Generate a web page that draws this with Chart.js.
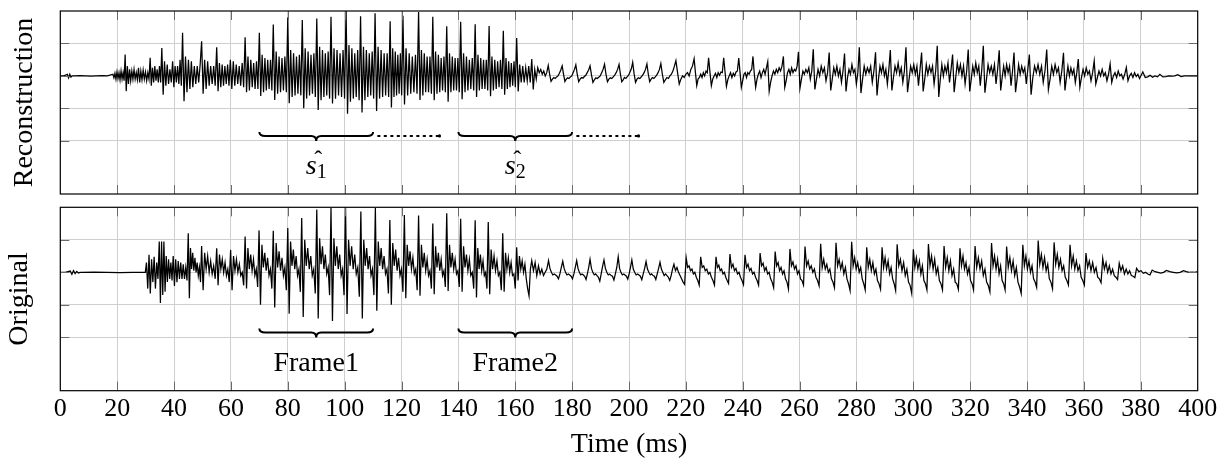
<!DOCTYPE html>
<html>
<head>
<meta charset="utf-8">
<script src="https://cdn.jsdelivr.net/npm/chart.js@4.4.0/dist/chart.umd.min.js"></script>
<style>
  body { margin: 0; background: #fff; }
  #wrap { position: relative; width: 1226px; height: 463px; }
  .panel { position: absolute; left: 0; width: 1226px; }
  #top { top: 0; height: 200px; }
  #bottom { top: 200px; height: 263px; }
</style>
</head>
<body>
<div id="wrap">
  <div class="panel" id="top"><canvas id="recon"></canvas></div>
  <div class="panel" id="bottom"><canvas id="orig"></canvas></div>
</div>
<script>
// x axis (ms)
const timeMin = 0;
const timeMax = 400;
const timeStep = 20;
// amplitude gridlines
const ampGrid = [-2, -1, 0, 1];
const ampMin = -3.64;
const ampMax = 2;

// analysis frames
const frameStart = [70, 140];
const frameEnd = [110, 180];
const frameNames = ['Frame1', 'Frame2'];
const hatNames = ['1', '2'];
const dottedEnd = [133, 203];

// Reconstruction: one row per pitch period -> [time of the period start (ms), samples read across the period...]
const reconRows = [
  [0, 0, 0],
  [2.5, .05, -.06, .05, -.04, 0, 0],
  [5, 0, .01, 0, -.01, 0, .01, 0],
  [18.5, .05, -.06, .08, -.1, .12, -.08, .1, -.12, .15, -.1, .1, -.15],
  [22.8, .66, -.47, .3, -.25, .2, -.15, .15, -.1, .2, -.1, .1, -.12],
  [27.5, .25, -.2, .15, -.12, .18, -.1, .12, -.15, .1, -.1],
  [31.6, .56, -.3, .25, -.2, .3, -.15, .2, -.2, .3, -.2],
  [35.7, .86, -.58, .45, -.3, .35, -.25, .2, -.2],
  [39.5, .45, -.35, .3, -.2, .3, -.25, .5, -.3],
  [43, 1.33, -.78, .6, -.5, .5, -.4, .45, -.35, .3, -.25, .3, -.2, .35],
  [49.7, 1.07, -.55, .5, -.4, .45, -.3, .3, -.25, .3, -.3],
  [55, .88, -.47, .4, -.35, .35, -.3, .3, -.25, .35, -.3],
  [59.8, .5, -.4, .45, -.3, .35, -.25, .3, -.3, .4, -.35],
  [65, 1.19, -.5, .6, -.45, .5, -.35, .4, -.4, .45, -.4],
  [70, 1.33, -.62, .65, -.5, .55, -.45, .5, -.4, .5, -.45],
  [74.9, 1.58, -.74, .75, -.55, .6, -.5, .55, -.45, .6, -.5],
  [80, 1.8, -.84, .8, -.65, .7, -.6, .6, -.55, .65, -.6],
  [85.1, 1.72, -1.0, .85, -.7, .75, -.6, .65, -.55, .7, -.65],
  [90.2, 1.77, -1.05, .9, -.75, .8, -.65, .7, -.6, .75, -.7],
  [95.2, 1.82, -.85, .85, -.7, .8, -.6, .7, -.65, .8, -.7],
  [100.5, 2.1, -1.17, .95, -.8, .85, -.7, .7, -.65, .8, -.75],
  [105.6, 1.84, -1.13, .9, -.75, .8, -.65, .7, -.6, .75, -.7],
  [110.7, 1.93, -1.08, .9, -.7, .8, -.65, .7, -.6, .7, -.65],
  [116, 1.68, -.97, .85, -.65, .75, -.6, .65, -.55, .7, -.6],
  [120.5, 1.85, -.88, .85, -.6, .7, -.55, .6, -.5, .65, -.55],
  [126, 1.97, -.74, .8, -.6, .7, -.5, .6, -.5, .6, -.55],
  [131, 1.82, -.75, .75, -.55, .65, -.5, .55, -.45, .6, -.5],
  [135.9, 1.53, -.8, .7, -.5, .6, -.45, .55, -.45, .55, -.5],
  [140.8, 1.67, -.72, .7, -.5, .6, -.45, .5, -.4, .55, -.45],
  [145.9, 1.59, -.65, .65, -.45, .55, -.4, .5, -.4, .5, -.45],
  [150.8, 1.54, -.63, .6, -.45, .5, -.4, .45, -.35, .5, -.4],
  [155.8, 1.39, -.58, .55, -.4, .45, -.35, .4, -.3, .45, -.35],
  [160.5, 1.17, -.48, .35, -.2, .3, -.2, .25, -.15, .3, -.2],
  [165.8, .52, -.42, .2, -.1, .25, .1, .2, .05, .15, 0, .1],
  [171.6, .32, .05, -.17, -.1, -.05, -.08, -.03, 0, .08, .18],
  [176.5, .31, .05, -.17, -.1, -.06, -.08, -.03, 0, .1, .2],
  [181.3, .34, .05, -.18, -.1, -.05, -.07, -.02, .02, .1, .18],
  [186.3, .31, .03, -.2, -.12, -.06, -.08, -.04, 0, .1, .2],
  [191.4, .36, .05, -.18, -.1, -.06, -.08, -.03, .02, .1, .2],
  [196.5, .35, .05, -.18, -.12, -.05, -.08, -.02, .02, .12, .22],
  [201.3, .42, .06, -.2, -.1, -.06, -.08, -.03, .02, .1, .2],
  [206.3, .37, .05, -.18, -.1, -.05, -.08, -.03, .02, .1, .2],
  [211.2, .38, .05, -.2, -.12, -.05, -.08, 0, .05, .15, .3],
  [216.5, .47, .1, -.25, -.1, 0, -.05, .05, .1, 0, .2, .3],
  [222.9, .53, .1, -.3, -.1, -.05, .05, -.05, .1, 0, .15, .1],
  [228, .56, .1, -.3, -.1, 0, .08, -.05, .1, .02, .12, .1],
  [233.3, .56, .12, -.32, -.12, 0, .1, -.05, .08, 0, .12, .15],
  [238.6, .55, .1, -.35, -.15, .05, .1, -.05, .1, .05, .15, .2],
  [243.6, .6, .05, -.35, -.1, .05, .15, -.05, .1, .2, .05, .25],
  [248.8, .44, -.47, -.2, 0, .15, .05, .2, .1, .25, .15, .3],
  [254.3, .6, -.35, -.15, .1, .2, .05, .25, .1, .2, .15, .3],
  [259.6, .74, -.38, -.1, .15, .05, .2, .1, .25, -.1, .15],
  [264.8, .82, -.42, -.1, .2, 0, .3, .1, .25, -.15, .1],
  [270.4, .72, -.45, -.1, .25, .05, .3, 0, .2, -.2, .15],
  [275.8, .69, -.48, -.05, .2, .05, .35, .1, .2, -.25, .1],
  [281, .88, -.53, -.1, .3, .05, .25, .1, .3, -.2, .15],
  [286.7, .73, -.6, -.1, .3, .1, .35, 0, .2, -.25, .2],
  [291.9, .8, -.45, -.05, .3, .1, .4, .05, .25, -.2, .15],
  [297.4, .88, -.5, -.1, .3, .1, .35, .05, .3, -.3, .2],
  [302.9, .72, -.48, -.1, .35, .05, .3, .1, .3, -.25, .15],
  [308.4, .93, -.65, -.1, .35, 0, .3, .1, .4, -.2, .2],
  [313.8, .66, -.5, -.05, .4, .1, .35, 0, .3, -.25, .15],
  [319.3, .81, -.48, -.1, .3, .05, .4, .1, .3, -.3, .2],
  [324.6, .93, -.52, -.1, .35, .1, .3, .05, .35, -.25, .2],
  [330.2, .79, -.45, -.05, .3, 0, .35, .1, .3, -.3, .15],
  [335.4, .72, -.5, -.1, .35, .05, .3, .1, .25, -.25, .2],
  [340.8, .66, -.58, -.05, .3, .1, .35, .05, .3, -.2, .15],
  [346.9, .81, -.42, -.1, .3, .05, .35, .1, .25, -.2, .15],
  [352.8, .71, -.45, -.05, .3, 0, .25, .05, .2, -.2, .1],
  [358, .52, -.35, -.05, .2, 0, .25, .05, .15, -.15, .1],
  [363.6, .46, -.25, -.05, .15, 0, .2, 0, .1, -.15, .05],
  [369.2, .37, -.2, 0, .1, -.05, .15, 0, .05, -.1, .05],
  [374.9, .26, -.15, 0, .08, -.05, .1, -.02, .05, -.08, .02],
  [380.7, .12, -.05, -.03, .02, -.04, 0, -.03],
  [386.7, .05, -.03, -.02, 0, -.01, 0],
  [393, .04, -.02, 0, 0, 0, 0],
  [400, 0]
];

// Original: same layout
const origRows = [
  [0, 0, 0],
  [3.5, .04, -.06, .05, -.04, .03, -.02, 0],
  [7.5, 0, .01, 0, -.01, 0],
  [29.9, 0],
  [30.3, .3, -.5, .54, -.65, .4, -.3, .48, -.5, .3, -.2],
  [34.8, .95, -.94, .95, -.7, .95, -.6, .5, -.3, .4, -.2, .3, -.25],
  [39.7, .5, -.42, .4, -.3, .35, -.2, .3, -.2, .25, -.2, .15, -.25],
  [45, 1.2, -.8, .75, .1, .6, .05, .45, 0, .3, -.1, .15, -.3],
  [49.7, .81, -.55, .6, .1, .5, 0, .35, -.05, .2, -.2],
  [55, .74, -.4, .55, .1, .4, 0, .3, -.1, .1, -.3],
  [59.9, .69, -.55, .5, .05, .4, 0, .25, -.1, 0, -.4],
  [65, 1.1, -.5, .75, .1, .55, .05, .4, -.1, .1, -.45],
  [69.9, 1.29, -1.0, .85, .15, .6, .05, .45, -.1, .1, -.5],
  [74.9, 1.28, -1.08, .9, .15, .65, .05, .45, -.1, .15, -.55],
  [80, 1.36, -1.27, .95, .2, .7, .1, .5, -.1, .1, -.6],
  [84.9, 1.67, -1.37, 1.0, .2, .75, .1, .5, -.1, .1, -.65],
  [90.2, 1.93, -1.42, 1.05, .25, .8, .1, .55, -.05, .15, -.7],
  [95.2, 1.98, -1.5, 1.05, .2, .8, .1, .55, -.1, .1, -.7],
  [100.3, 2.1, -1.28, 1.0, .2, .8, .1, .55, -.05, .15, -.75],
  [105.7, 1.87, -1.42, 1.0, .2, .75, .1, .5, -.1, .1, -.7],
  [110.8, 1.98, -1.18, .95, .2, .75, .1, .5, -.05, .1, -.65],
  [115.9, 1.61, -1.0, .9, .2, .7, .05, .45, -.1, .1, -.6],
  [121, 1.76, -.8, .85, .2, .65, .1, .45, -.05, .1, -.55],
  [126, 1.75, -.72, .85, .15, .6, .05, .4, -.1, .05, -.5],
  [131, 1.5, -.67, .8, .15, .6, .05, .4, -.1, .05, -.45],
  [135.9, 1.82, -.57, .85, .15, .6, .1, .4, -.05, .05, -.45],
  [140.8, 1.65, -.6, .8, .15, .55, .05, .4, -.1, 0, -.5],
  [145.9, 1.6, -.77, .75, .1, .55, .05, .35, -.1, 0, -.5],
  [150.5, 1.55, -.67, .7, .1, .5, .05, .35, -.1, 0, -.55],
  [155.6, 1.2, -.6, .6, .1, .45, 0, .3, -.1, -.05, -.5],
  [160.5, .77, -.25, .5, .1, .35, 0, .25, -.2, -.5, -.72, .1],
  [165.8, .36, .05, .3, -.1, .2, -.05, .1, -.1, 0, .1],
  [171.7, .36, .12, 0, -.08, -.05, -.08, -.12, -.2, -.05, .15],
  [176.7, .34, .12, 0, -.08, -.05, -.08, -.12, -.2, -.05, .15],
  [181.6, .36, .12, 0, -.08, -.05, -.08, -.12, -.22, -.05, .15],
  [186.3, .4, .12, 0, -.08, -.05, -.1, -.15, -.27, -.05, .18],
  [191.2, .38, .12, 0, -.08, -.05, -.1, -.12, -.24, -.05, .15],
  [196.2, .48, .12, 0, -.08, -.05, -.08, -.12, -.21, -.05, .15],
  [201, .38, .1, 0, -.08, -.05, -.08, -.12, -.23, -.05, .12],
  [206, .33, .1, 0, -.08, -.05, -.1, -.12, -.22, -.05, .12],
  [210.9, .31, .1, 0, -.1, -.05, -.1, -.15, -.25, -.1, .1],
  [215.8, .25, .05, .15, 0, -.1, -.2, -.3, -.37],
  [220.1, .45, .15, .2, .05, .1, -.05, 0, -.15, -.25, -.39],
  [225.2, .48, .15, .2, .05, .1, -.05, 0, -.15, -.25, -.39],
  [230.6, .48, .15, .22, .05, .1, -.05, 0, -.15, -.25, -.34],
  [235.5, .56, .15, .25, .05, .12, -.05, 0, -.15, -.25, -.38],
  [240.8, .54, .15, .25, .05, .12, -.05, 0, -.15, -.25, -.39],
  [246.1, .59, .2, .28, .05, .15, -.05, 0, -.2, -.3, -.47],
  [251.4, .64, .2, .3, .05, .15, -.05, .05, -.2, -.3, -.51],
  [256.6, .72, .2, .32, .1, .2, -.05, .05, -.2, -.25, -.39],
  [261.9, .79, .2, .35, .1, .2, 0, .1, -.15, -.25, -.41],
  [267.4, .88, .15, .4, .1, .25, 0, .1, -.2, -.3, -.47],
  [272.8, .91, .2, .4, .1, .3, -.05, .15, -.2, -.35, -.56],
  [278.3, .94, .2, .45, .1, .3, 0, .15, -.2, -.35, -.54],
  [283.6, .77, .15, .4, .05, .3, -.05, .1, -.25, -.35, -.52],
  [289, .77, .15, .45, .1, .35, -.05, .15, -.2, -.35, -.56],
  [294.3, .86, .2, .4, .05, .3, -.1, .1, -.3, -.4, -.65],
  [300, .71, .15, .45, .1, .35, -.05, .2, -.25, -.35, -.54],
  [305.3, .87, .2, .5, .1, .4, -.05, .15, -.25, -.35, -.54],
  [310.8, .81, .15, .45, .05, .35, -.1, .1, -.3, -.35, -.52],
  [316.4, .74, .2, .5, .1, .3, -.05, .15, -.25, -.35, -.54],
  [321.7, .81, .15, .45, .1, .35, -.1, .1, -.3, -.4, -.6],
  [327.5, .9, .2, .5, .1, .4, -.05, .2, -.25, -.35, -.54],
  [332.8, .79, .15, .45, .05, .35, -.1, .15, -.3, -.45, -.65],
  [338.5, .85, .2, .5, .1, .35, 0, .2, -.2, -.3, -.46],
  [343.9, .98, .25, .55, .15, .45, .05, .25, -.2, -.3, -.5],
  [349.5, .92, .25, .55, .15, .4, .05, .2, -.15, -.25, -.39],
  [355.1, .85, .2, .5, .1, .35, .05, .2, -.15, -.25, -.39],
  [360.7, .59, .15, .35, .05, .3, 0, .15, -.15, -.2, -.32],
  [366.6, .43, .1, .3, 0, .2, -.05, .1, -.1, -.15, -.22],
  [372.4, .28, .05, .2, -.05, .1, -.05, .05, -.1, -.12, -.16],
  [378.5, .12, .02, .05, -.03, 0, -.05, -.08],
  [384, .07, .02, 0, -.02, 0],
  [389, .06, .02, 0, -.02, 0],
  [395, .05, .02, 0, .01, 0],
  [400, .02]
];

// turn period rows into {x, y} points
function toPoints(rows) {
  const pts = [];
  rows.forEach((row, i) => {
    const t0 = row[0];
    const t1 = i + 1 < rows.length ? rows[i + 1][0] : timeMax;
    const vals = row.slice(1);
    const step = (t1 - t0) / vals.length;
    vals.forEach((v, k) => pts.push({ x: t0 + k * step, y: v }));
  });
  return pts;
}

const serif = "'Liberation Serif', 'Times New Roman', serif";

// frame, inner tick marks, braces and their labels
function decoPlugin(kind) {
  return {
    id: 'deco_' + kind,
    afterDatasetsDraw(chart) {
      const { ctx, chartArea: a, scales: { x, y } } = chart;
      ctx.save();
      // tick marks inside the box
      ctx.strokeStyle = '#6a6a6a';
      ctx.lineWidth = 1;
      ctx.beginPath();
      for (let t = timeMin + timeStep; t < timeMax; t += timeStep) {
        const px = Math.round(x.getPixelForValue(t)) + 0.5;
        ctx.moveTo(px, a.top); ctx.lineTo(px, a.top + 9);
        ctx.moveTo(px, a.bottom); ctx.lineTo(px, a.bottom - 9);
      }
      ampGrid.forEach(v => {
        const py = Math.round(y.getPixelForValue(v)) + 0.5;
        ctx.moveTo(a.left, py); ctx.lineTo(a.left + 9, py);
        ctx.moveTo(a.right, py); ctx.lineTo(a.right - 9, py);
      });
      ctx.stroke();
      // box
      ctx.strokeStyle = '#000';
      ctx.lineWidth = 1.2;
      ctx.strokeRect(a.left, a.top, a.right - a.left, a.bottom - a.top);

      // braces under the frames
      const by = y.getPixelForValue(-1.85);
      ctx.lineWidth = 2;
      frameStart.forEach((s, i) => {
        const x0 = x.getPixelForValue(s);
        const x1 = x.getPixelForValue(frameEnd[i]);
        const xm = (x0 + x1) / 2;
        ctx.beginPath();
        ctx.moveTo(x0, by - 4);
        ctx.quadraticCurveTo(x0, by, x0 + 6, by);
        ctx.lineTo(xm - 5, by);
        ctx.quadraticCurveTo(xm, by, xm, by + 5);
        ctx.quadraticCurveTo(xm, by, xm + 5, by);
        ctx.lineTo(x1 - 6, by);
        ctx.quadraticCurveTo(x1, by, x1, by - 4);
        ctx.stroke();

        ctx.fillStyle = '#000';
        const ly = y.getPixelForValue(-3.02);
        if (kind === 'recon') {
          // dotted continuation
          const xd = x.getPixelForValue(dottedEnd[i]);
          ctx.save();
          ctx.setLineDash([1.5, 5]);
          ctx.lineCap = 'round';
          ctx.beginPath();
          ctx.moveTo(x1 + 5, by);
          ctx.lineTo(xd, by);
          ctx.stroke();
          ctx.restore();
          ctx.beginPath();
          ctx.arc(xd + 1, by, 1.6, 0, Math.PI * 2);
          ctx.fill();
          // s-hat label
          ctx.font = "italic 28px " + serif;
          const sw = ctx.measureText('s').width;
          ctx.font = "20px " + serif;
          const nw = ctx.measureText(hatNames[i]).width;
          const left = xm - (sw + nw) / 2;
          ctx.textAlign = 'left';
          ctx.textBaseline = 'alphabetic';
          ctx.font = "italic 28px " + serif;
          ctx.fillText('s', left, ly);
          ctx.font = "20px " + serif;
          ctx.fillText(hatNames[i], left + sw, ly + 4);
          ctx.font = "24px " + serif;
          ctx.textAlign = 'center';
          ctx.fillText('\u02C6', xm + 2, ly - 7);
        } else {
          ctx.font = "28px " + serif;
          ctx.textAlign = 'center';
          ctx.textBaseline = 'alphabetic';
          ctx.fillText(frameNames[i], xm, ly);
        }
      });
      ctx.restore();
    }
  };
}

function makePanel(canvasId, rows, yTitle, kind) {
  const isBottom = kind === 'orig';
  return new Chart(document.getElementById(canvasId), {
    type: 'line',
    data: {
      datasets: [{
        data: toPoints(rows),
        borderColor: '#000',
        borderWidth: 1.25,
        pointRadius: 0,
        tension: 0
      }]
    },
    options: {
      responsive: true,
      maintainAspectRatio: false,
      animation: false,
      layout: { padding: { left: 0, right: 28.3, top: isBottom ? 7.3 : 11, bottom: isBottom ? 0 : 6 } },
      plugins: { legend: { display: false }, tooltip: { enabled: false } },
      scales: {
        x: {
          type: 'linear',
          min: timeMin,
          max: timeMax,
          border: { display: false },
          grid: { color: '#cfcfcf', lineWidth: 1, drawTicks: false },
          ticks: {
            display: isBottom,
            stepSize: timeStep,
            autoSkip: false,
            maxRotation: 0,
            padding: 3,
            color: '#000',
            font: { family: serif, size: 26 }
          },
          title: {
            display: isBottom,
            text: 'Time (ms)',
            color: '#000',
            font: { family: serif, size: 28 },
            padding: { top: 0, bottom: 2 }
          },
          afterFit: s => { s.height = isBottom ? 72.3 : 0; }
        },
        y: {
          min: ampMin,
          max: ampMax,
          border: { display: false },
          grid: { color: '#cfcfcf', lineWidth: 1, drawTicks: false },
          ticks: { display: false },
          afterBuildTicks: s => { s.ticks = ampGrid.map(v => ({ value: v })); },
          title: {
            display: true,
            text: yTitle,
            color: '#000',
            font: { family: serif, size: 28 },
            padding: { top: isBottom ? 2.7 : 7.7, bottom: 0 }
          },
          afterFit: s => { s.width = 60.3; }
        }
      }
    },
    plugins: [decoPlugin(kind)]
  });
}

makePanel('recon', reconRows, 'Reconstruction', 'recon');
makePanel('orig', origRows, 'Original', 'orig');
</script>
</body>
</html>
